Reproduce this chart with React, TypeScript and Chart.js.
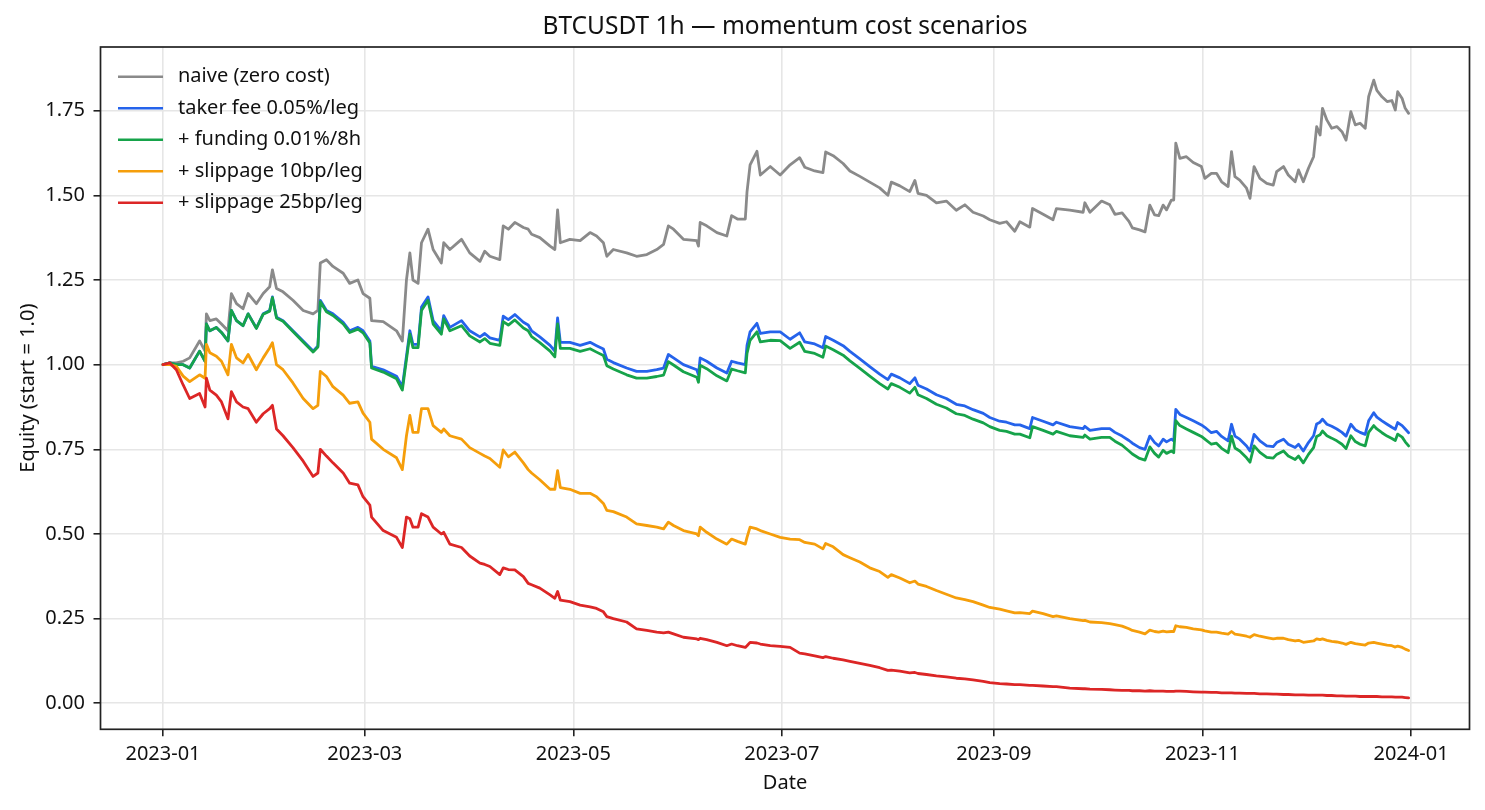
import React, { useEffect, useRef } from 'react';
import { Chart, registerables } from 'chart.js';

Chart.register(...registerables);

// days since 2023-01-01 00:00 (hourly backtest, sampled)
const dayOffsets = [
  0, 2, 3.9, 5.9, 7.8, 10.7, 12.3, 12.7, 13.7, 15.6, 17.1, 19.0, 20.0, 21.5, 23.4, 24.9, 27.3, 29.3, 31.2, 32.0,
  33.2, 35.1, 38.0, 41.0, 43.9, 45.3, 46.0, 47.8, 49.7, 52.7, 54.6, 57.0, 58.5, 60.5, 61.0, 64.4, 68.3, 70.0, 71.2, 72.2,
  73.1, 74.6, 75.6, 77.5, 79.0, 81.4, 82.1, 83.9, 87.3, 89.7,
  92.7, 94.1, 95.6, 98.5, 99.5, 101, 102.9, 105.4, 106.8, 107.8, 110.2, 113.2, 114.6, 115.4, 116.2, 119, 122, 124.9, 126.8, 128.8,
  129.8, 131.7, 135.6, 138.5, 141.5, 144.4, 146.4, 147.8, 149.3, 152.2, 156.1, 156.6, 157.1, 159, 162, 164.9, 166.3, 168, 170.3, 170.8,
  171.7, 173.7, 174.7, 177.6, 180.5, 183.4,
  186.2, 187.7, 190.6, 193.0, 193.8, 196, 198.9, 200.9, 203.8, 206.7, 209.6, 212, 213, 215.5, 218.4, 219.9, 220.8, 223.3, 226.2, 229.1,
  232, 234.5, 236.9, 239.9, 241.8, 244.7, 246.7, 249.1, 250.6, 253.5, 254.3, 257.4, 260.3, 261.3, 265.2, 269.1, 269.6, 271.1, 274.5, 276.9,
  278.4, 280.5,
  282.5, 283.5, 285.6, 287.2, 288.6, 290, 291.2, 292.5, 293.5, 294.9, 295.6, 296.2, 297.4, 299.3, 301.3, 303.7, 304.7, 306.6, 308.1, 309.6,
  311.5, 312.5, 313.5, 314.9, 316.9, 317.9, 319.1, 320.8, 322.8, 324.7, 325.7, 327.7, 329.1, 331.1, 332.1, 333.5, 335, 336.5, 337.4, 338.4,
  339.1, 340.4, 341.8, 343.3, 344.8, 346.0, 347.4, 348.7, 350.1, 351.6, 352.6, 354.1, 355.0, 356.5, 358.0, 359.4, 360.4, 361.1, 362.4, 363.3,
  364.3,
];

const naiveEquity = [
  1.00, 1.005, 1.005, 1.01, 1.02, 1.07, 1.04, 1.15, 1.13, 1.135, 1.12, 1.10, 1.21, 1.18, 1.165, 1.21, 1.18, 1.21, 1.23, 1.28,
  1.225, 1.215, 1.19, 1.16, 1.15, 1.16, 1.30, 1.31, 1.29, 1.27, 1.24, 1.25, 1.21, 1.196, 1.13, 1.127, 1.10, 1.07, 1.25, 1.33,
  1.25, 1.24, 1.36, 1.40, 1.34, 1.30, 1.36, 1.34, 1.37, 1.33,
  1.305, 1.335, 1.32, 1.31, 1.41, 1.40, 1.42, 1.405, 1.40, 1.385, 1.375, 1.35, 1.34, 1.457, 1.36, 1.37, 1.366, 1.39, 1.38, 1.36,
  1.32, 1.34, 1.33, 1.32, 1.325, 1.34, 1.355, 1.41, 1.40, 1.37, 1.366, 1.35, 1.42, 1.41, 1.39, 1.38, 1.44, 1.43, 1.43, 1.51,
  1.59, 1.63, 1.56, 1.585, 1.56, 1.59,
  1.611, 1.583, 1.572, 1.567, 1.628, 1.617, 1.594, 1.572, 1.556, 1.539, 1.522, 1.50, 1.539, 1.528, 1.511, 1.544, 1.506, 1.50, 1.478, 1.483,
  1.456, 1.472, 1.45, 1.439, 1.428, 1.417, 1.422, 1.394, 1.422, 1.406, 1.461, 1.444, 1.428, 1.461, 1.456, 1.45, 1.478, 1.45, 1.483, 1.472,
  1.444, 1.448,
  1.423, 1.404, 1.398, 1.392, 1.471, 1.442, 1.44, 1.471, 1.457, 1.486, 1.486, 1.654, 1.609, 1.614, 1.597, 1.585, 1.55, 1.565, 1.565, 1.54,
  1.526, 1.629, 1.555, 1.545, 1.521, 1.491, 1.585, 1.55, 1.535, 1.53, 1.57, 1.585, 1.56, 1.54, 1.575, 1.54, 1.58, 1.614, 1.703, 1.678,
  1.757, 1.722, 1.698, 1.703, 1.688, 1.663, 1.747, 1.708, 1.713, 1.698, 1.791, 1.84, 1.81, 1.791, 1.777, 1.78, 1.752, 1.806, 1.786, 1.757,
  1.742,
];

const takerEquity = [
  1.00, 1.005, 1.00, 1.00, 0.99, 1.04, 1.01, 1.12, 1.10, 1.11, 1.095, 1.07, 1.16, 1.13, 1.115, 1.15, 1.108, 1.15, 1.16, 1.20,
  1.14, 1.13, 1.10, 1.07, 1.04, 1.055, 1.19, 1.16, 1.15, 1.125, 1.10, 1.11, 1.10, 1.07, 0.995, 0.985, 0.966, 0.935, 1.025, 1.10,
  1.06, 1.06, 1.17, 1.20, 1.13, 1.10, 1.145, 1.11, 1.13, 1.10,
  1.082, 1.092, 1.079, 1.072, 1.143, 1.133, 1.148, 1.125, 1.117, 1.10, 1.082, 1.057, 1.04, 1.138, 1.066, 1.066, 1.057, 1.066, 1.056, 1.046,
  1.016, 1.006, 0.99, 0.98, 0.98, 0.985, 0.99, 1.03, 1.02, 1.00, 0.985, 0.97, 1.02, 1.01, 0.99, 0.975, 1.01, 1.005, 1.00, 1.057,
  1.097, 1.122, 1.092, 1.097, 1.097, 1.075,
  1.094, 1.067, 1.061, 1.05, 1.083, 1.072, 1.056, 1.039, 1.017, 0.994, 0.972, 0.956, 0.972, 0.961, 0.944, 0.961, 0.939, 0.928, 0.911, 0.90,
  0.883, 0.878, 0.867, 0.856, 0.844, 0.833, 0.83, 0.822, 0.822, 0.811, 0.844, 0.833, 0.822, 0.83, 0.817, 0.811, 0.818, 0.806, 0.811, 0.811,
  0.80, 0.789,
  0.776, 0.768, 0.755, 0.75, 0.789, 0.77, 0.76, 0.78, 0.772, 0.78, 0.775, 0.868, 0.853, 0.844, 0.834, 0.822, 0.815, 0.799, 0.803, 0.788,
  0.775, 0.824, 0.789, 0.78, 0.76, 0.745, 0.794, 0.775, 0.76, 0.758, 0.77, 0.78, 0.765, 0.755, 0.765, 0.745, 0.77, 0.79, 0.825, 0.83,
  0.839, 0.824, 0.818, 0.81, 0.80, 0.789, 0.824, 0.808, 0.80, 0.794, 0.834, 0.858, 0.845, 0.834, 0.824, 0.815, 0.809, 0.829, 0.82, 0.81,
  0.799,
];

const fundingEquity = [
  1.00, 1.005, 1.00, 1.00, 0.99, 1.04, 1.01, 1.12, 1.10, 1.11, 1.095, 1.07, 1.16, 1.13, 1.115, 1.15, 1.107, 1.149, 1.158, 1.198,
  1.138, 1.128, 1.098, 1.067, 1.037, 1.052, 1.186, 1.156, 1.145, 1.12, 1.095, 1.105, 1.094, 1.064, 0.99, 0.978, 0.958, 0.925, 1.015, 1.09,
  1.05, 1.05, 1.16, 1.19, 1.12, 1.09, 1.135, 1.10, 1.115, 1.085,
  1.067, 1.077, 1.063, 1.057, 1.127, 1.117, 1.132, 1.108, 1.10, 1.083, 1.065, 1.04, 1.023, 1.12, 1.048, 1.048, 1.039, 1.047, 1.037, 1.027,
  0.997, 0.987, 0.97, 0.96, 0.96, 0.965, 0.969, 1.009, 0.999, 0.979, 0.963, 0.948, 0.998, 0.988, 0.967, 0.952, 0.987, 0.982, 0.976, 1.033,
  1.072, 1.097, 1.067, 1.072, 1.071, 1.048,
  1.066, 1.039, 1.033, 1.022, 1.055, 1.044, 1.028, 1.011, 0.989, 0.966, 0.944, 0.928, 0.944, 0.933, 0.916, 0.933, 0.911, 0.90, 0.883, 0.872,
  0.855, 0.85, 0.839, 0.828, 0.817, 0.806, 0.803, 0.795, 0.795, 0.784, 0.817, 0.806, 0.795, 0.803, 0.79, 0.785, 0.792, 0.78, 0.785, 0.785,
  0.774, 0.762,
  0.745, 0.736, 0.723, 0.718, 0.757, 0.738, 0.727, 0.747, 0.738, 0.745, 0.74, 0.835, 0.82, 0.81, 0.80, 0.788, 0.78, 0.765, 0.768, 0.753,
  0.74, 0.789, 0.754, 0.745, 0.725, 0.712, 0.76, 0.741, 0.726, 0.724, 0.735, 0.745, 0.73, 0.72, 0.73, 0.71, 0.735, 0.755, 0.788, 0.793,
  0.804, 0.79, 0.783, 0.775, 0.765, 0.752, 0.79, 0.773, 0.765, 0.76, 0.80, 0.82, 0.81, 0.799, 0.789, 0.782, 0.776, 0.795, 0.786, 0.772,
  0.76,
];

const slip10Equity = [
  1.00, 1.00, 0.995, 0.966, 0.95, 0.97, 0.96, 1.06, 1.035, 1.025, 1.01, 0.97, 1.06, 1.02, 1.005, 1.03, 0.985, 1.02, 1.05, 1.065,
  1.00, 0.985, 0.946, 0.90, 0.87, 0.88, 0.98, 0.965, 0.935, 0.91, 0.886, 0.89, 0.857, 0.83, 0.78, 0.75, 0.725, 0.69, 0.79, 0.85,
  0.80, 0.80, 0.87, 0.87, 0.82, 0.80, 0.81, 0.79, 0.78, 0.755,
  0.738, 0.73, 0.723, 0.697, 0.748, 0.728, 0.742, 0.71, 0.69, 0.68, 0.66, 0.632, 0.632, 0.687, 0.637, 0.632, 0.62, 0.62, 0.61, 0.59,
  0.57, 0.566, 0.55, 0.53, 0.525, 0.52, 0.515, 0.535, 0.525, 0.51, 0.50, 0.495, 0.52, 0.505, 0.485, 0.47, 0.485, 0.478, 0.47, 0.49,
  0.52, 0.515, 0.51, 0.50, 0.49, 0.485,
  0.483, 0.475, 0.47, 0.456, 0.472, 0.462, 0.439, 0.43, 0.417, 0.40, 0.389, 0.372, 0.38, 0.37, 0.356, 0.361, 0.352, 0.345, 0.333, 0.322,
  0.311, 0.306, 0.30, 0.29, 0.283, 0.278, 0.273, 0.267, 0.268, 0.265, 0.272, 0.265, 0.256, 0.258, 0.25, 0.244, 0.245, 0.24, 0.238, 0.235,
  0.232, 0.228,
  0.22, 0.215, 0.21, 0.205, 0.216, 0.212, 0.21, 0.213, 0.211, 0.212, 0.212, 0.229, 0.226, 0.224, 0.22, 0.217, 0.214, 0.21, 0.21, 0.207,
  0.204, 0.212, 0.204, 0.202, 0.198, 0.195, 0.203, 0.198, 0.194, 0.19, 0.192, 0.192, 0.188, 0.184, 0.186, 0.18, 0.182, 0.184, 0.19, 0.188,
  0.19, 0.186, 0.183, 0.181, 0.178, 0.174, 0.18, 0.176, 0.174, 0.172, 0.178, 0.18, 0.178, 0.175, 0.172, 0.17, 0.166, 0.169, 0.165, 0.16,
  0.156,
];

const slip25Equity = [
  1.00, 1.005, 0.985, 0.94, 0.90, 0.915, 0.875, 0.96, 0.925, 0.91, 0.89, 0.84, 0.92, 0.89, 0.875, 0.87, 0.83, 0.855, 0.87, 0.88,
  0.81, 0.79, 0.755, 0.715, 0.67, 0.68, 0.75, 0.73, 0.71, 0.68, 0.65, 0.645, 0.61, 0.585, 0.55, 0.51, 0.49, 0.46, 0.55, 0.545,
  0.52, 0.52, 0.56, 0.55, 0.52, 0.50, 0.505, 0.47, 0.46, 0.435,
  0.414, 0.41, 0.404, 0.38, 0.40, 0.395, 0.394, 0.374, 0.354, 0.35, 0.34, 0.32, 0.31, 0.33, 0.305, 0.30, 0.29, 0.285, 0.28, 0.27,
  0.256, 0.25, 0.24, 0.22, 0.215, 0.21, 0.208, 0.21, 0.205, 0.195, 0.19, 0.188, 0.192, 0.188, 0.18, 0.17, 0.175, 0.17, 0.165, 0.17,
  0.18, 0.178, 0.175, 0.17, 0.168, 0.165,
  0.148, 0.146, 0.14, 0.135, 0.138, 0.133, 0.128, 0.124, 0.118, 0.112, 0.105, 0.097, 0.098, 0.095, 0.09, 0.091, 0.088, 0.085, 0.081, 0.078,
  0.074, 0.072, 0.069, 0.065, 0.061, 0.058, 0.057, 0.055, 0.055, 0.053, 0.053, 0.051, 0.049, 0.049, 0.045, 0.043, 0.043, 0.042, 0.041, 0.04,
  0.039, 0.038,
  0.038, 0.037, 0.037, 0.036, 0.037, 0.036, 0.036, 0.036, 0.035, 0.035, 0.035, 0.036, 0.036, 0.035, 0.034, 0.033, 0.033, 0.032, 0.032, 0.031,
  0.031, 0.031, 0.03, 0.03, 0.029, 0.029, 0.029, 0.028, 0.028, 0.027, 0.027, 0.026, 0.026, 0.025, 0.025, 0.025, 0.024, 0.024, 0.024, 0.024,
  0.024, 0.023, 0.023, 0.022, 0.022, 0.021, 0.021, 0.021, 0.02, 0.02, 0.02, 0.02, 0.02, 0.019, 0.019, 0.019, 0.018, 0.018, 0.018, 0.017,
  0.016,
];

const seriesLabels = [
  'naive (zero cost)',
  'taker fee 0.05%/leg',
  '+ funding 0.01%/8h',
  '+ slippage 10bp/leg',
  '+ slippage 25bp/leg',
];
const seriesColors = ['#8a8a8a', '#2563eb', '#16a34a', '#f59e0b', '#dc2626'];
const seriesValues = [naiveEquity, takerEquity, fundingEquity, slip10Equity, slip25Equity];

const xTickDays = [0, 59, 120, 181, 243, 304, 365];
const xTickLabels = ['2023-01', '2023-03', '2023-05', '2023-07', '2023-09', '2023-11', '2024-01'];
const yTicks = [0, 0.25, 0.5, 0.75, 1.0, 1.25, 1.5, 1.75];

const FONT = "'Noto Sans', 'DejaVu Sans', sans-serif";
const TEXT = '#111111';

const frameAndLegend = {
  id: 'frameAndLegend',
  afterDraw(chart: any) {
    const { ctx, chartArea } = chart;
    ctx.save();
    ctx.strokeStyle = '#222222';
    ctx.lineWidth = 1.7;
    ctx.strokeRect(chartArea.left, chartArea.top, chartArea.right - chartArea.left, chartArea.bottom - chartArea.top);
    ctx.font = `20px ${FONT}`;
    ctx.textBaseline = 'middle';
    ctx.textAlign = 'left';
    chart.data.datasets.forEach((ds: any, i: number) => {
      const y = chartArea.top + 29.7 + i * 31.5;
      ctx.strokeStyle = ds.borderColor;
      ctx.lineWidth = 2.4;
      ctx.beginPath();
      ctx.moveTo(chartArea.left + 17.5, y);
      ctx.lineTo(chartArea.left + 62.5, y);
      ctx.stroke();
      ctx.fillStyle = TEXT;
      ctx.fillText(ds.label, chartArea.left + 77.5, y);
    });
    ctx.restore();
  },
};

export default function App() {
  const canvasRef = useRef<HTMLCanvasElement | null>(null);

  useEffect(() => {
    if (!canvasRef.current) return;
    const datasets = seriesValues.map((vals, si) => ({
      label: seriesLabels[si],
      data: dayOffsets.map((d, i) => ({ x: d, y: vals[i] })),
      borderColor: seriesColors[si],
      backgroundColor: seriesColors[si],
      borderWidth: 2.8,
      pointRadius: 0,
      tension: 0,
      borderJoinStyle: 'round' as const,
      borderCapStyle: 'round' as const,
      order: 5 - si,
    }));

    const chart = new Chart(canvasRef.current, {
      type: 'line',
      data: { datasets },
      options: {
        animation: false,
        responsive: false,
        devicePixelRatio: 1,
        layout: { padding: { left: 0, right: 15.5, top: 0, bottom: 0 } },
        plugins: {
          legend: { display: false },
          tooltip: { enabled: false },
          title: {
            display: true,
            text: 'BTCUSDT 1h — momentum cost scenarios',
            color: TEXT,
            fullSize: false,
            font: { family: FONT, size: 24.5, weight: 'normal', lineHeight: 1.2 },
            padding: { top: 12.5, bottom: 5.1 },
          },
        },
        scales: {
          x: {
            type: 'linear',
            min: -18.28,
            max: 382.1,
            afterBuildTicks: (scale: any) => {
              scale.ticks = xTickDays.map((v) => ({ value: v }));
            },
            afterFit: (scale: any) => {
              scale.height = 80.7;
            },
            ticks: {
              autoSkip: false,
              maxRotation: 0,
              color: TEXT,
              padding: 6.2,
              font: { family: FONT, size: 20 },
              callback: (value: any) => {
                const i = xTickDays.indexOf(Number(value));
                return i >= 0 ? xTickLabels[i] : '';
              },
            },
            grid: {
              color: '#e6e6e6',
              lineWidth: 1.6,
              drawTicks: true,
              tickLength: 7,
              tickColor: '#222222',
              tickWidth: 1.6,
            },
            border: { display: false },
            title: {
              display: true,
              text: 'Date',
              color: TEXT,
              font: { family: FONT, size: 20, lineHeight: 1.2 },
              padding: { top: 0, bottom: 15 },
            },
          },
          y: {
            type: 'linear',
            min: -0.0768,
            max: 1.938,
            afterBuildTicks: (scale: any) => {
              scale.ticks = yTicks.map((v) => ({ value: v }));
            },
            afterFit: (scale: any) => {
              scale.width = 100.5;
            },
            ticks: {
              color: TEXT,
              padding: 8.5,
              font: { family: FONT, size: 20 },
              callback: (value: any) => Number(value).toFixed(2),
            },
            grid: {
              color: '#e6e6e6',
              lineWidth: 1.6,
              drawTicks: true,
              tickLength: 7,
              tickColor: '#222222',
              tickWidth: 1.6,
            },
            border: { display: false },
            title: {
              display: true,
              text: 'Equity (start = 1.0)',
              color: TEXT,
              font: { family: FONT, size: 20, lineHeight: 1.2 },
              padding: { top: 16, bottom: 0 },
            },
          },
        },
      },
      plugins: [frameAndLegend],
    });
    return () => chart.destroy();
  }, []);

  return (
    <div style={{ position: 'absolute', left: 0, top: 0, width: 1485, height: 810, background: '#ffffff' }}>
      <canvas ref={canvasRef} width={1485} height={810} />
    </div>
  );
}
